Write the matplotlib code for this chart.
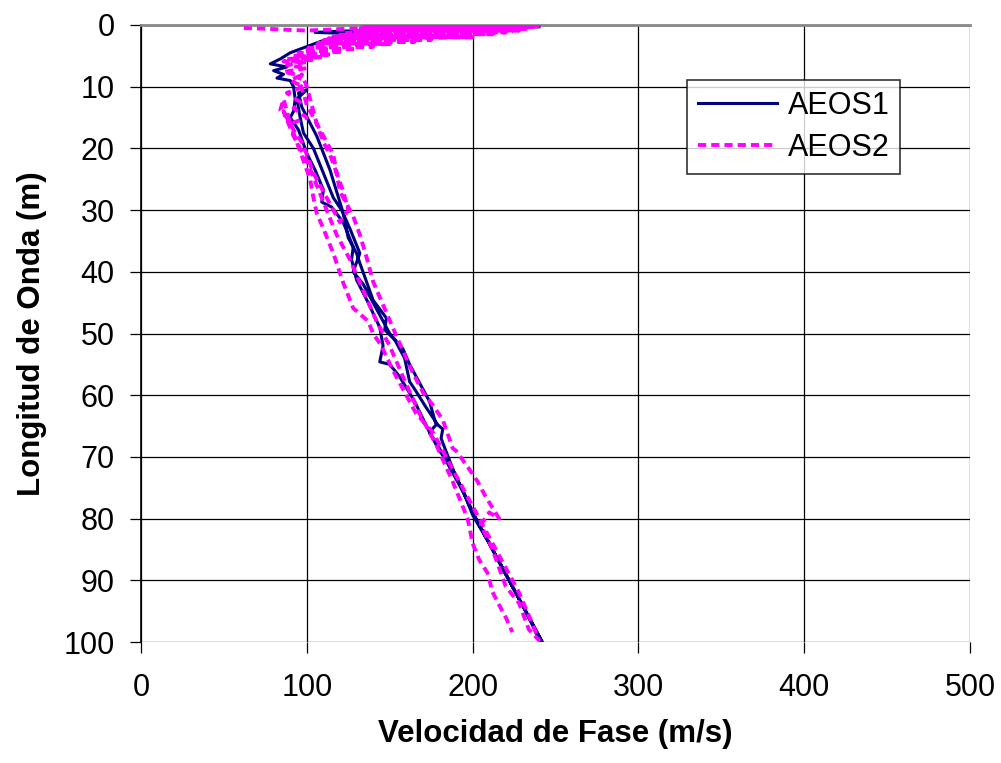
import matplotlib
matplotlib.use("Agg")
import matplotlib.pyplot as plt
import numpy as np

plt.rcParams['font.family'] = ['Liberation Sans', 'DejaVu Sans']

# AEOS1: (velocity m/s, wavelength m) in plotting order
aeos1_v = [240, 200, 160, 120, 105, 150, 125, 110, 100, 90, 84, 78, 88, 80, 86, 82, 90,
           92, 93, 92, 90, 95, 100, 105, 110, 109, 115, 122, 128, 127, 130, 137, 144, 146,
           144, 150, 156, 165, 174, 180, 188, 195, 200, 210, 220, 230, 242,
           232, 222, 212, 202, 195, 189, 181, 182, 179, 172, 165, 162, 159, 153, 147, 148,
           140, 132, 130, 125, 122, 114, 106, 97, 95, 100,
           94, 96, 98, 104, 110, 116, 121, 126, 132, 128, 134, 142, 150, 158, 162, 168,
           174, 178, 174, 180, 188, 200, 210, 222, 232, 241]
aeos1_L = [0.3, 0.5, 0.8, 1.0, 1.2, 1.6, 2.0, 2.5, 3.5, 4.5, 5.5, 6.3, 6.8, 7.4, 8.0, 8.6, 9.0,
           10, 12, 14, 15, 17, 20.8, 23.5, 26.7, 28.7, 29.5, 32, 36, 38, 41.3, 45, 49, 52,
           54.6, 55, 57, 61, 66, 68.6, 72.6, 76, 79.4, 84, 89, 94, 100,
           95, 90, 85, 80, 76, 72.6, 67, 65.5, 64.8, 62, 59, 57.8, 54, 51, 49.4, 47.5,
           44.6, 38.6, 37, 34.5, 30.5, 23.5, 18, 13.3, 11, 10.5,
           12, 15, 17.5, 20, 24, 28, 30, 33, 37, 40, 42, 46, 50, 52.5, 55, 58,
           61, 64.8, 66, 69, 72, 79, 84, 90, 95, 100]

# AEOS2
aeos2_v = [62, 75, 90, 100, 125,
           240, 134, 238, 132, 234, 130, 228, 127, 220, 124, 212, 120, 200, 188, 178, 116,
           190, 113, 175, 110, 165, 107, 150, 104, 140, 101, 130, 98, 122, 95, 115, 92,
           110, 88, 105, 86, 100, 88, 100, 86, 96,
           90, 98, 88, 96, 92, 100, 90, 86, 84, 88, 92, 97, 100, 104, 110, 116, 120,
           125, 122, 118, 116, 112, 108, 104, 100, 98, 95, 97,
           100, 103, 106, 110, 114, 118, 120, 124, 128, 132, 136, 140, 147, 155, 164, 170,
           176, 182, 188, 190, 197, 203, 208, 216, 210, 205, 212, 220, 228, 234, 240,
           236, 228, 220, 212, 204, 198, 192, 184, 176, 166, 160, 152, 145, 140, 137,
           128, 122, 116, 110, 106, 104, 102, 98, 94, 90, 86,
           92, 100, 106, 112, 118, 126, 134, 142, 150, 158, 168, 178, 188, 197, 200,
           204, 209, 212, 216, 220, 224]
aeos2_L = [0.5, 0.6, 0.8, 0.9, 0.6,
           0.1, 0.1, 0.3, 0.4, 0.6, 0.7, 0.9, 1.0, 1.2, 1.3, 1.5, 1.6, 2.0, 2.0, 2.1, 1.9,
           1.9, 2.2, 2.4, 2.5, 2.7, 2.9, 3.1, 3.3, 3.5, 3.7, 3.9, 4.1, 4.3, 4.5, 4.8, 5.0,
           5.2, 5.5, 5.6, 5.9, 6.0, 6.5, 7.0, 7.6, 8.2,
           9.0, 10, 11, 12.5, 13.5, 15, 16, 12, 13.8, 15, 17, 19, 21, 24, 27, 30, 32,
           30, 27, 24, 21, 19, 17, 15, 13, 11, 9, 8,
           10, 13, 16, 19, 21, 24, 27, 29, 31, 34, 37.6, 41.6, 46, 51, 56.4, 59.5,
           61.6, 64, 68.6, 69, 71.6, 74, 76.5, 80, 79, 81, 85, 91, 93.7, 98, 99.7,
           97, 92, 88, 84, 80, 77, 74, 70, 66, 63, 60, 56, 52, 50, 48,
           45.9, 41.8, 37, 33, 30.5, 28, 25, 22, 19, 16, 14,
           18, 22, 26, 30, 34, 38, 43, 48, 52, 57, 63, 68, 74, 80, 84,
           86.7, 88.8, 91.9, 94, 96, 98.4]

x_ticks = [0, 100, 200, 300, 400, 500]
y_ticks = [0, 10, 20, 30, 40, 50, 60, 70, 80, 90, 100]

fig = plt.figure(figsize=(10.01, 7.63), dpi=100)
ax = fig.add_axes([141/1001, (763-642)/763, (970-141)/1001, (642-25)/763])

ax.plot(aeos1_v, aeos1_L, color='#000080', lw=2.2, label='AEOS1', zorder=3)
ax.plot(aeos2_v, aeos2_L, color='#FF00FF', lw=2.8, dashes=(2.1, 1.3), label='AEOS2', zorder=4)

ax.set_xlim(0, 500)
ax.set_ylim(100, 0)
ax.set_xticks(x_ticks)
ax.set_yticks(y_ticks)
ax.grid(True, color='black', lw=0.9)
ax.set_axisbelow(True)
for s in ['right', 'bottom']:
    ax.spines[s].set_visible(False)
ax.spines['left'].set_color('black')
ax.spines['left'].set_linewidth(1.2)
ax.spines['top'].set_color('#888888')
ax.spines['top'].set_linewidth(2.0)
ax.tick_params(axis='y', direction='out', length=8, width=0.9, pad=11, labelsize=22)
ax.tick_params(axis='x', direction='out', length=8, width=0.9, pad=14, labelsize=22)

ax.set_xlabel('Velocidad de Fase (m/s)', fontsize=22.5, fontweight='bold', labelpad=12)
ax.set_ylabel('Longitud de Onda (m)', fontsize=22.5, fontweight='bold', labelpad=12)

leg = ax.legend(loc='upper left', bbox_to_anchor=((687-141)/829, 1-(80-25)/617),
                fontsize=22, frameon=True, fancybox=False, edgecolor='black',
                handlelength=2.6, borderpad=0.35, labelspacing=0.4, handletextpad=0.35,
                borderaxespad=0)
leg.get_frame().set_linewidth(1.2)

fig.savefig('out.png', dpi=100)
